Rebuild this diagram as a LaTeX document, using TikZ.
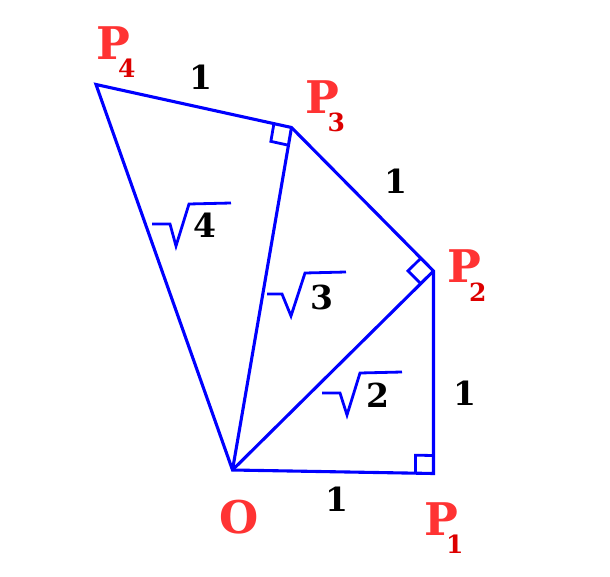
\documentclass[tikz,border=0pt]{standalone}
\usepackage{fontspec}
\setmainfont{DejaVu Serif}
\usetikzlibrary{calc}
\definecolor{pred}{HTML}{FF3333}
\definecolor{psub}{HTML}{DD0000}
\definecolor{lblue}{HTML}{0000FF}
\newcommand{\ptlabel}[1]{P\kern-12pt\raisebox{-18pt}{\color{psub}\fontsize{25}{25}\selectfont #1}}
\tikzset{
  edgeline/.style={draw=lblue, line width=3.1pt},
  ramark/.style={draw=lblue, line width=2.8pt},
  radline/.style={draw=lblue, line width=2.8pt},
  plab/.style={text=pred, font=\fontsize{45}{45}\selectfont\bfseries, inner sep=0pt},
  ptnode/.style={plab, anchor=base west},
  numlab/.style={text=black, font=\fontsize{33}{33}\selectfont\bfseries, inner sep=0pt}
}
\begin{document}
\begin{tikzpicture}[x=1pt,y=-1pt]
\useasboundingbox (0,0) rectangle (610,577);
% vertices
\coordinate (O) at (232.5,470);
\coordinate (P1) at (433.5,473.5);
\coordinate (P2) at (433.5,271);
\coordinate (P3) at (291.5,127.5);
\coordinate (P4) at (96,84.5);
% triangles
\draw[edgeline] (O) -- (P1) -- (P2) -- (P3) -- (P4) -- cycle;
\draw[edgeline] (O) -- (P2);
\draw[edgeline] (O) -- (P3);
% right angle marks
\coordinate (a1) at ($(P1)!18pt!(O)$);
\coordinate (c1) at ($(P1)!18pt!(P2)$);
\draw[ramark] (a1) -- ($(a1)+(c1)-(P1)$) -- (c1);
\coordinate (a2) at ($(P2)!18pt!(O)$);
\coordinate (c2) at ($(P2)!18pt!(P3)$);
\draw[ramark] (a2) -- ($(a2)+(c2)-(P2)$) -- (c2);
\coordinate (a3) at ($(P3)!18pt!(O)$);
\coordinate (c3) at ($(P3)!18pt!(P4)$);
\draw[ramark] (a3) -- ($(a3)+(c3)-(P3)$) -- (c3);
% radicals
\coordinate (r4) at (152,224);
\coordinate (r3) at (267,294);
\coordinate (r2) at (322,393);
\draw[radline] (r4) -- ++(18,0) -- ++(6,22) -- ++(13,-42) -- ++(42,-1);
\draw[radline] (r3) -- ++(15,0) -- ++(9,22) -- ++(14,-43) -- ++(41,-1);
\draw[radline] (r2) -- ++(18,0) -- ++(7,22) -- ++(13,-42) -- ++(42,-1);
\node[numlab] (d4) at (205,225) {4};
\node[numlab] (d3) at (322,297) {3};
\node[numlab] (d2) at (378,395) {2};
% side labels
\node[numlab] (s1) at (336.5,499) {1};
\node[numlab] (s2) at (464.5,393) {1};
\node[numlab] (s3) at (396,181) {1};
\node[numlab] (s4) at (201,77) {1};
% point labels
\node[plab] (lO) at (239.5,517.5) {O};
\node[ptnode] (lP1) at (424,535) {\ptlabel{1}};
\node[ptnode] (lP2) at (447,283) {\ptlabel{2}};
\node[ptnode] (lP3) at (305.5,113.3) {\ptlabel{3}};
\node[ptnode] (lP4) at (96,60) {\ptlabel{4}};
\end{tikzpicture}
\end{document}
